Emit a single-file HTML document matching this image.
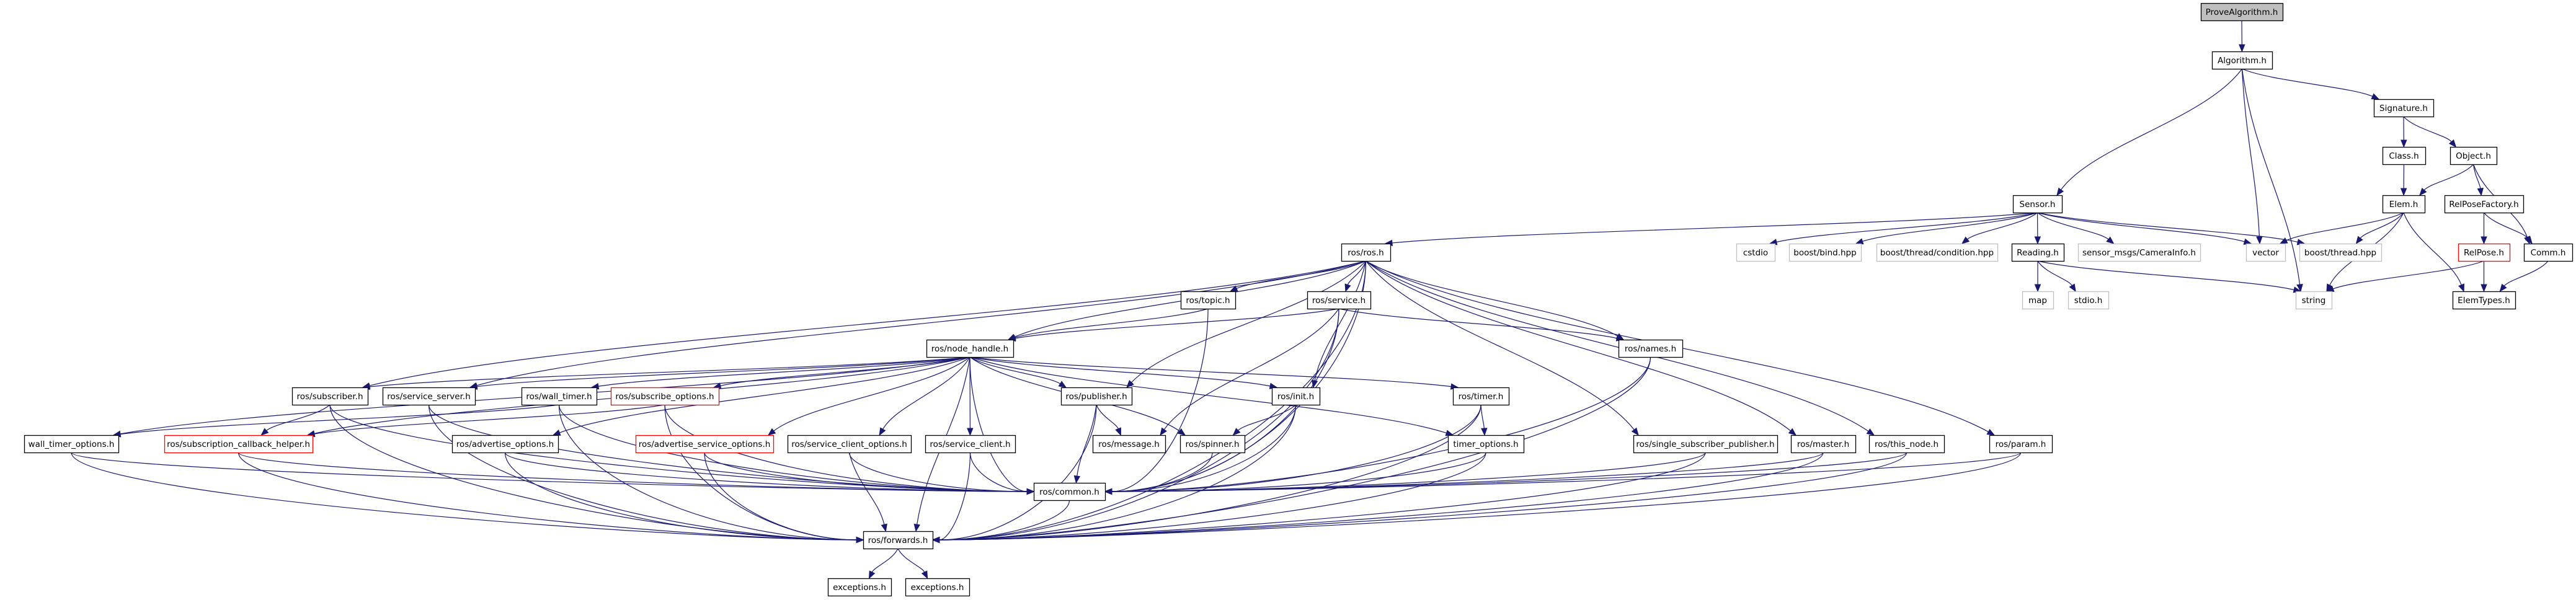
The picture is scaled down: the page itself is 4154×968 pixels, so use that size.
<!DOCTYPE html>
<html><head><meta charset="utf-8"><style>
html,body{margin:0;padding:0;background:#fff;}
svg{display:block;}
text{font-family:"DejaVu Sans","Liberation Sans",sans-serif;font-size:13.5px;fill:#000;}
</style></head><body>
<svg id="g" width="4154" height="968" viewBox="0 0 4154 968" xmlns="http://www.w3.org/2000/svg">
<g id="edges" fill="none" stroke="#191970" stroke-width="1.2"></g>
<g id="arrows" fill="#191970" stroke="#191970" stroke-width="1"></g>
<g id="nodes" stroke-width="1.3"></g>
<g id="labels" text-anchor="middle">
<text x="3615" y="24">ProveAlgorithm.h</text>
<text x="3615.5" y="102">Algorithm.h</text>
<text x="3876" y="179">Signature.h</text>
<text x="3876.5" y="256">Class.h</text>
<text x="3988.5" y="256">Object.h</text>
<text x="3285.5" y="334">Sensor.h</text>
<text x="3876" y="334">Elem.h</text>
<text x="4005.5" y="334">RelPoseFactory.h</text>
<text x="2831" y="412" fill="#000">cstdio</text>
<text x="2943" y="412">boost/bind.hpp</text>
<text x="3123.5" y="412">boost/thread/condition.hpp</text>
<text x="3286" y="412">Reading.h</text>
<text x="3449.5" y="412">sensor_msgs/CameraInfo.h</text>
<text x="3653.5" y="412">vector</text>
<text x="3774" y="412">boost/thread.hpp</text>
<text x="4005.5" y="412">RelPose.h</text>
<text x="4109" y="412">Comm.h</text>
<text x="3286" y="489">map</text>
<text x="3367.5" y="489">stdio.h</text>
<text x="3731" y="489">string</text>
<text x="4005.5" y="489">ElemTypes.h</text>
<text x="2202.5" y="412">ros/ros.h</text>
<text x="1948" y="489">ros/topic.h</text>
<text x="2159" y="489">ros/service.h</text>
<text x="1564" y="567">ros/node_handle.h</text>
<text x="2661.5" y="567">ros/names.h</text>
<text x="1768" y="644">ros/publisher.h</text>
<text x="2089.5" y="644">ros/init.h</text>
<text x="2388" y="644">ros/timer.h</text>
<text x="532" y="644">ros/subscriber.h</text>
<text x="691.5" y="644">ros/service_server.h</text>
<text x="901.5" y="644">ros/wall_timer.h</text>
<text x="1072" y="644">ros/subscribe_options.h</text>
<text x="115" y="721">wall_timer_options.h</text>
<text x="384.5" y="721">ros/subscription_callback_helper.h</text>
<text x="814.5" y="721">ros/advertise_options.h</text>
<text x="1136" y="721">ros/advertise_service_options.h</text>
<text x="1369.5" y="721">ros/service_client_options.h</text>
<text x="1564.5" y="721">ros/service_client.h</text>
<text x="1820.5" y="721">ros/message.h</text>
<text x="1955" y="721">ros/spinner.h</text>
<text x="2396" y="721">timer_options.h</text>
<text x="2750" y="721">ros/single_subscriber_publisher.h</text>
<text x="2940" y="721">ros/master.h</text>
<text x="3074.5" y="721">ros/this_node.h</text>
<text x="3258.5" y="721">ros/param.h</text>
<text x="1724.5" y="798">ros/common.h</text>
<text x="1448" y="876">ros/forwards.h</text>
<text x="1386" y="952">exceptions.h</text>
<text x="1511.5" y="952">exceptions.h</text>
</g>
</svg>
<script>
var R=[5,83,160,237,315,393,470,548,625,702,779,857,933];
var N={
PA:[3549,3681,0,'g'],ALG:[3567,3664,1],SIG:[3828,3924,2],CLS:[3842,3911,3],OBJ:[3951,4026,3],
SEN:[3246,3325,4],ELEM:[3842,3910,4],RPF:[3942,4069,4],
CSTDIO:[2800,2862,5,'l'],BIND:[2885,3001,5,'l'],COND:[3026,3221,5,'l'],READ:[3244,3328,5],CAM:[3351,3548,5,'l'],
VEC:[3622,3685,5,'l'],BTH:[3708,3840,5,'l'],RP:[3964,4047,5,'r'],COMM:[4070,4148,5],
MAP:[3261,3311,6,'l'],STDIO:[3335,3400,6,'l'],STR:[3702,3760,6,'l'],ET:[3955,4056,6],
ROS:[2163,2242,5],TOPIC:[1904,1992,6],SERV:[2108,2210,6],NH:[1494,1634,7],NAMES:[2610,2713,7],
PUB:[1711,1825,8],INIT:[2051,2128,8],TIMER:[2343,2433,8],SUB:[471,593,8],SSRV:[617,766,8],WT:[841,962,8],SO:[985,1159,8,'r'],
WTO:[39,191,9],SCH:[265,504,9,'r'],AO:[729,900,9],ASO:[1025,1247,9,'r'],SCO:[1270,1469,9],SC:[1492,1637,9],
MSG:[1762,1879,9],SPIN:[1903,2007,9],TO:[2335,2457,9],SSP:[2634,2866,9],MASTER:[2888,2992,9],THIS:[3014,3135,9],PARAM:[3208,3309,9],
COMMON:[1667,1782,10],FWD:[1392,1504,11],EXC1:[1335,1437,12],EXC2:[1460,1563,12]};
var H=28;
var E=[['PA','ALG'],['ALG','SEN'],['ALG','STR'],['ALG','VEC'],['ALG','SIG'],['SIG','CLS'],['SIG','OBJ'],['CLS','ELEM'],
['OBJ','ELEM'],['OBJ','RPF'],['OBJ','COMM'],['ELEM','VEC'],['ELEM','BTH'],['ELEM','STR'],['ELEM','ET'],['RPF','RP'],['RPF','COMM'],
['RP','ET'],['RP','STR'],['COMM','ET'],['SEN','ROS'],['SEN','CSTDIO'],['SEN','BIND'],['SEN','COND'],['SEN','READ'],['SEN','CAM'],
['SEN','VEC'],['SEN','BTH'],['READ','MAP'],['READ','STDIO'],['READ','STR'],
['ROS','SUB'],['ROS','SSRV'],['ROS','NH'],['ROS','TOPIC'],['ROS','SERV'],['ROS','PUB'],['ROS','INIT'],['ROS','COMMON'],['ROS','NAMES'],
['ROS','SSP'],['ROS','MASTER'],['ROS','THIS'],['ROS','PARAM'],['ROS','FWD'],
['TOPIC','NH'],['TOPIC','COMMON'],['SERV','NH'],['SERV','MSG'],['SERV','COMMON'],['SERV','FWD'],['SERV','NAMES'],
['NH','SUB'],['NH','SSRV'],['NH','WT'],['NH','SO'],['NH','AO'],['NH','ASO'],['NH','SCO'],['NH','SC'],['NH','PUB'],['NH','COMMON'],
['NH','SPIN'],['NH','INIT'],['NH','TIMER'],['NH','TO'],['NH','FWD'],['NH','WTO'],['NH','SCH'],
['PUB','MSG'],['PUB','COMMON'],['PUB','FWD'],['INIT','SPIN'],['INIT','COMMON'],['INIT','FWD'],['TIMER','TO'],['TIMER','COMMON'],['TIMER','FWD'],
['NAMES','COMMON'],['NAMES','FWD'],['SSP','COMMON'],['SSP','FWD'],['MASTER','COMMON'],['MASTER','FWD'],['THIS','COMMON'],['THIS','FWD'],
['PARAM','COMMON'],['PARAM','FWD'],['SUB','SCH'],['SUB','COMMON'],['SUB','FWD'],['SSRV','COMMON'],['SSRV','FWD'],['WT','WTO'],['WT','COMMON'],
['WT','FWD'],['SO','SCH'],['SO','COMMON'],['SO','FWD'],['WTO','COMMON'],['WTO','FWD'],['SCH','COMMON'],['SCH','FWD'],['AO','COMMON'],['AO','FWD'],
['ASO','COMMON'],['ASO','FWD'],['SCO','COMMON'],['SCO','FWD'],['SC','COMMON'],['SC','FWD'],['SPIN','COMMON'],['TO','COMMON'],['TO','FWD'],
['COMMON','FWD'],['FWD','EXC1'],['FWD','EXC2']];
var NS='http://www.w3.org/2000/svg';
function el(p,t,a){var e=document.createElementNS(NS,t);for(var k in a)e.setAttribute(k,a[k]);p.appendChild(e);return e;}
var ng=document.getElementById('nodes');
for(var k in N){var n=N[k];var y=R[n[2]];
 var st=n[3]=='l'?'#bfbfbf':n[3]=='r'?'#ff0000':'#000';var f=n[3]=='g'?'#bfbfbf':'#fff';
 el(ng,'rect',{x:n[0]+0.5,y:y+0.5,width:n[1]-n[0],height:H,fill:f,stroke:st});}
var eg=document.getElementById('edges'),ag=document.getElementById('arrows');
E.forEach(function(e){var s=N[e[0]],t=N[e[1]];
 var sy=R[s[2]]+H,sx=(s[0]+s[1])/2,ty=R[t[2]],tcx=(t[0]+t[1])/2,tx,c1,c2;
 var big=(e[1]=='COMMON'||e[1]=='FWD');
 if(big&&sx<t[0]-60){tx=t[0];ty=R[t[2]]+H/2;c1=[sx,sy+(ty-sy)*0.5];c2=[tx-Math.min(300,(tx-sx)*0.5),ty];}
 else if(big&&sx>t[1]+60){tx=t[1];ty=R[t[2]]+H/2;c1=[sx,sy+(ty-sy)*0.5];c2=[tx+Math.min(300,(sx-tx)*0.5),ty];}
 else{tx=tcx+(sx-tcx)*0.25;tx=Math.max(t[0]+8,Math.min(t[1]-8,tx));var dy=ty-sy;c1=[sx+(tx-sx)*0.2,sy+dy*0.4];c2=[tx-(tx-sx)*0.2,ty-dy*0.4];}
 var dx=tx-c2[0],ddy=ty-c2[1],L=Math.sqrt(dx*dx+ddy*ddy)||1;dx/=L;ddy/=L;
 var bx=tx-dx*11,by=ty-ddy*11;
 el(eg,'path',{d:'M'+sx+','+sy+' C'+c1[0]+','+c1[1]+' '+c2[0]+','+c2[1]+' '+bx+','+by});
 el(ag,'polygon',{points:tx+','+ty+' '+(bx-ddy*4.5)+','+(by+dx*4.5)+' '+(bx+ddy*4.5)+','+(by-dx*4.5)});
});
</script>
</body></html>
